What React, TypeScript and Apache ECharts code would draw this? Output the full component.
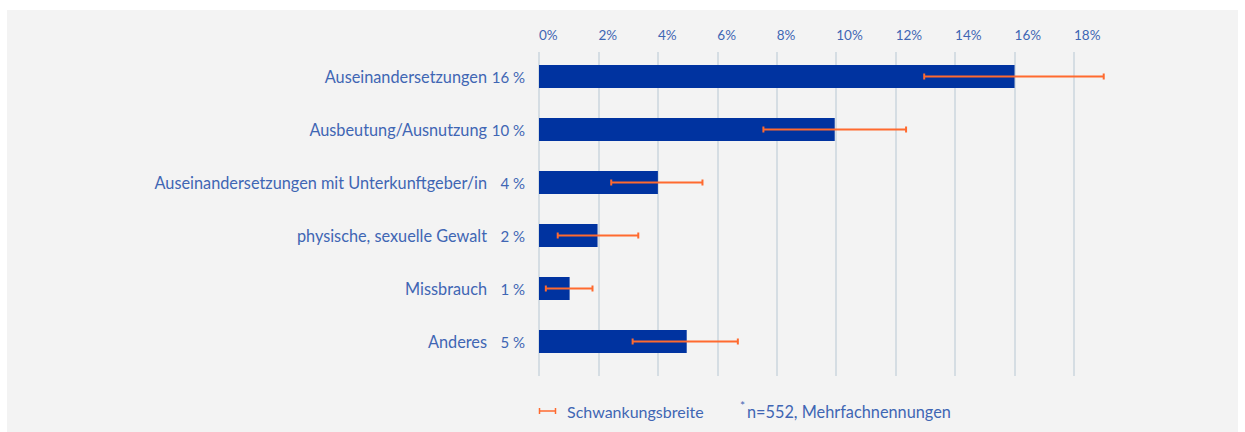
import React, { useEffect, useRef } from "react";
import * as echarts from "echarts";

const categories = [
  "Auseinandersetzungen",
  "Ausbeutung/Ausnutzung",
  "Auseinandersetzungen mit Unterkunftgeber/in",
  "physische, sexuelle Gewalt",
  "Missbrauch",
  "Anderes",
];
const valueLabels = ["16 %", "10 %", "4 %", "2 %", "1 %", "5 %"];
const values = [16, 9.95, 4, 1.97, 1.03, 4.97];
const errLow = [12.96, 7.55, 2.43, 0.63, 0.23, 3.15];
const errHigh = [19.0, 12.35, 5.5, 3.34, 1.8, 6.69];
const legendLabel = "Schwankungsbreite";
const footnote = "n=552, Mehrfachnennungen";

const FONT = "Lato, 'Open Sans', sans-serif";
const TEXT = "#3f66b4";
const BAR = "#0033a0";
const ORANGE = "#ff6a2f";
const GRIDC = "#d5dde3";

export default function App() {
  const ref = useRef<HTMLDivElement>(null);
  useEffect(() => {
    if (!ref.current) return;
    const chart = echarts.init(ref.current, null, { renderer: "svg" });
    const errData = categories.map((_, i) => [i, errLow[i], errHigh[i]]);
    chart.setOption({
      animation: false,
      backgroundColor: "#ffffff",
      textStyle: { fontFamily: FONT },
      grid: [
        { left: 539, right: 171, top: 52, height: 324 },
        { left: 539, right: 171, top: 50, height: 318 },
      ],
      xAxis: [
        {
          type: "value",
          gridIndex: 0,
          position: "top",
          min: 0,
          max: 18,
          interval: 2,
          axisLine: { show: false },
          axisTick: { show: false },
          splitLine: { show: true, lineStyle: { color: GRIDC, width: 2 } },
          axisLabel: {
            formatter: "{value}%",
            color: TEXT,
            fontFamily: FONT,
            fontSize: 13.5,
            align: "left",
            verticalAlign: "middle",
            margin: 17,
          },
        },
        {
          type: "value",
          gridIndex: 1,
          min: 0,
          max: 18,
          interval: 2,
          show: false,
        },
      ],
      yAxis: [
        { type: "value", gridIndex: 0, show: false, min: 0, max: 1 },
        {
          type: "category",
          gridIndex: 1,
          data: categories,
          inverse: true,
          axisLine: { show: false },
          axisTick: { show: false },
          splitLine: { show: false },
          axisLabel: {
            margin: 14,
            formatter: (v: string, i: number) => `{n|${v}}{v|${valueLabels[i]}}`,
            rich: {
              n: { color: TEXT, fontFamily: FONT, fontSize: 16.3 },
              v: { color: TEXT, fontFamily: FONT, fontSize: 15, width: 38, align: "right" },
            },
          },
        },
      ],
      series: [
        {
          type: "bar",
          xAxisIndex: 1,
          yAxisIndex: 1,
          data: values,
          barWidth: 23,
          itemStyle: { color: BAR },
          silent: true,
        },
        {
          type: "custom",
          name: legendLabel,
          xAxisIndex: 1,
          yAxisIndex: 1,
          clip: false,
          data: errData,
          renderItem: (params: any, api: any) => {
            const c = api.value(0);
            const lo = api.coord([api.value(1), c]);
            const hi = api.coord([api.value(2), c]);
            const y = lo[1];
            const h = 3;
            const style = { stroke: ORANGE, lineWidth: 2 };
            return {
              type: "group",
              children: [
                { type: "line", shape: { x1: lo[0], y1: y, x2: hi[0], y2: y }, style },
                { type: "line", shape: { x1: lo[0], y1: y - h, x2: lo[0], y2: y + h }, style },
                { type: "line", shape: { x1: hi[0], y1: y - h, x2: hi[0], y2: y + h }, style },
              ],
            };
          },
          z: 5,
        },
      ],
      graphic: [
        {
          type: "rect",
          z: -10,
          silent: true,
          shape: { x: 7, y: 10, width: 1231, height: 422 },
          style: { fill: "#f3f3f3" },
        },
        {
          type: "group",
          children: [
            { type: "line", shape: { x1: 539, y1: 411, x2: 556, y2: 411 }, style: { stroke: ORANGE, lineWidth: 1.5 } },
            { type: "line", shape: { x1: 539.5, y1: 408, x2: 539.5, y2: 414 }, style: { stroke: ORANGE, lineWidth: 1.5 } },
            { type: "line", shape: { x1: 555.5, y1: 408, x2: 555.5, y2: 414 }, style: { stroke: ORANGE, lineWidth: 1.5 } },
            {
              type: "text",
              x: 567,
              y: 411,
              style: { text: legendLabel, fill: TEXT, font: `16px ${FONT}`, verticalAlign: "middle" },
            },
            {
              type: "text",
              x: 740,
              y: 405,
              style: { text: "*", fill: TEXT, font: `12px ${FONT}`, verticalAlign: "middle" },
            },
            {
              type: "text",
              x: 747,
              y: 411,
              style: { text: footnote, fill: TEXT, font: `16.3px ${FONT}`, verticalAlign: "middle" },
            },
          ],
        },
      ],
    });
    return () => chart.dispose();
  }, []);
  return (
    <div style={{ position: "absolute", left: 0, top: 0, width: 1245, height: 432, background: "#fff" }}>
      <div ref={ref} style={{ width: 1245, height: 432 }} />
    </div>
  );
}
